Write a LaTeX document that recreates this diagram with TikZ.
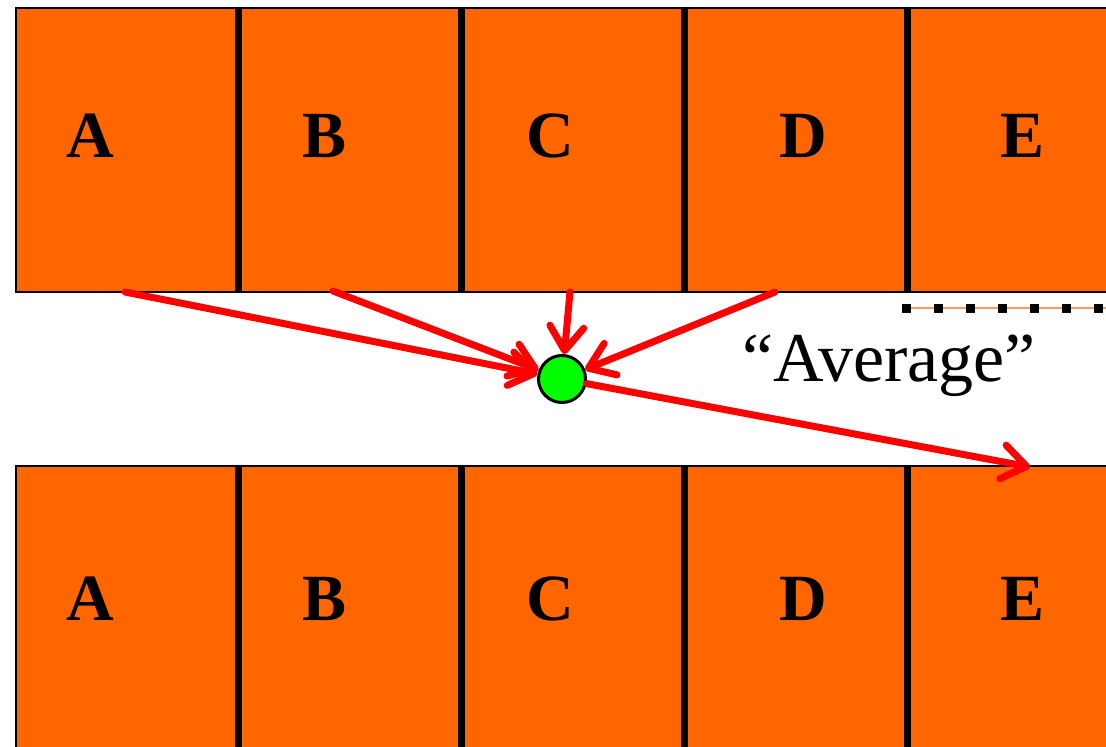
\documentclass[tikz,border=0pt]{standalone}
\usepackage{fontspec}
\setmainfont{Liberation Serif}
\usetikzlibrary{arrows.meta}
\definecolor{cellorange}{HTML}{FF6600}
\definecolor{dotgreen}{HTML}{00FF00}
\definecolor{arrowred}{HTML}{FF0000}
\definecolor{lightorange}{HTML}{FF9955}
\begin{document}
\begin{tikzpicture}[x=1pt,y=-1pt,
  cell/.style={draw=black, line width=2pt, fill=cellorange, minimum width=223pt,
               minimum height=284pt, inner sep=0pt, anchor=north west},
  divider/.style={line width=7pt, black},
  letter/.style={font=\fontsize{66}{66}\selectfont\bfseries, anchor=base, inner sep=0pt},
  flow/.style={arrowred, line width=7pt, line cap=round,
               -{Straight Barb[length=24pt, width=34pt, line cap=round, line join=round]}},
  avg/.style={circle, draw=black, line width=3pt, fill=dotgreen, minimum size=47pt, inner sep=0pt}]
  \useasboundingbox (0,0) rectangle (1106,747);
  \begin{scope}
    \clip (0,0) rectangle (1106,747);
    % upper row of cells
    \foreach \i/\x in {1/15,2/238,3/461,4/684,5/907}
      \node[cell] (t\i) at (\x,7) {};
    % lower row of cells
    \foreach \i/\x in {1/15,2/238,3/461,4/684,5/907}
      \node[cell] (b\i) at (\x,465) {};
    % heavy separators between neighbouring cells
    \foreach \i in {2,3,4,5} {
      \draw[divider] (t\i.north west) -- (t\i.south west);
      \draw[divider] (b\i.north west) -- (b\i.south west);
    }
    % cell letters
    \foreach \n/\l/\x in {1/A/90,2/B/325,3/C/550,4/D/803,5/E/1023} {
      \node[letter] (lt\n) at (\x,157) {\l};
      \node[letter] (lb\n) at (\x,620) {\l};
    }
    % dotted guide under the last cell
    \coordinate (g0) at (902,308);
    \coordinate (g1) at (1106,308);
    \draw[lightorange, line width=2pt] (g0) -- (g1);
    \draw[black, line width=9pt, dash pattern=on 9pt off 23pt] (g0) -- (g1);
  \end{scope}
  % averaging point
  \node[avg] (m) at (562,379) {};
  \coordinate (sA) at (125,292);
  \coordinate (sB) at (333,291);
  \coordinate (sC) at (570,292);
  \coordinate (sD) at (775,292);
  \coordinate (eE) at (1030,467);
  \draw[flow] (sA) -- (m);
  \draw[flow] (sB) -- (m);
  \draw[flow] (sC) -- (m);
  \draw[flow] (sD) -- (m);
  \draw[flow] (m) -- (eE);
  \node[font=\fontsize{70}{70}\selectfont, anchor=base, inner sep=0pt] (lab) at (889,381) {“Average”};
\end{tikzpicture}
\end{document}
